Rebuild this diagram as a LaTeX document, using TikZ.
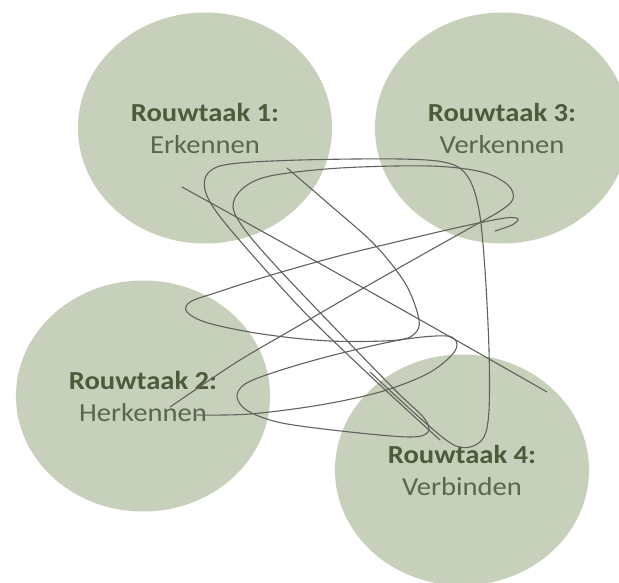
\documentclass[tikz,border=0pt]{standalone}
\usepackage{fontspec}
\setmainfont{Carlito}
\usetikzlibrary{positioning}
\definecolor{taakgroen}{RGB}{199,208,187}
\definecolor{kopgroen}{RGB}{78,91,58}
\definecolor{naamgroen}{RGB}{90,103,80}
\definecolor{krabbelgrijs}{RGB}{96,98,92}
\newcommand{\taakkop}[1]{\textbf{\color{kopgroen}#1}}
\tikzset{
	%Define style for the circles
	taak/.style={
		circle,
		fill=taakgroen,
		minimum size=231pt,
		inner sep=0pt,
		xscale=1.1,
		align=center,
		text=naamgroen,
		font=\fontsize{26}{32}\selectfont},
	% Define style for the scribble
	krabbel/.style={
		draw=krabbelgrijs,
		line width=1.1pt,
		line cap=round,
		line join=round}
}
\begin{document}
\begin{tikzpicture}[x=1pt,y=-1pt]
	\useasboundingbox (0,0) rectangle (619,582);
	\clip (0,0) rectangle (619,582);
	% node Rouwtaak 1
	\node[taak] (erkennen) at (205,128) {\taakkop{Rouwtaak 1:}\\Erkennen};
	% node Rouwtaak 3
	\node[taak] (verkennen) at (502,128) {\taakkop{Rouwtaak 3:}\\Verkennen};
	% node Rouwtaak 2
	\node[taak] (herkennen) at (143,396) {\taakkop{Rouwtaak 2:}\\Herkennen};
	% node Rouwtaak 4
	\node[taak] (verbinden) at (462,470) {\taakkop{Rouwtaak 4:}\\Verbinden};
	% scribble across the four circles
	\draw[krabbel] (182,187) .. controls (300,252) and (430,325) .. (547,392);
	\draw[krabbel] plot[smooth,tension=.55] coordinates {(440,440) (380,385) (310,318) (255,258) (218,214) (205,190) (208,173) (230,164) (300,160) (400,159) (448,163) (468,177) (479,210) (485,270) (489,350) (489,410) (484,437) (470,447) (452,444) (420,418) (370,372)};
	\draw[krabbel] plot[smooth,tension=.55] coordinates {(197,415) (250,414) (320,405) (380,392) (425,375) (449,358) (457,345) (447,336) (400,340) (330,356) (275,372) (245,384) (237,397) (248,411) (282,423) (350,432) (410,437) (428,432) (424,418) (395,390) (330,323) (275,265) (245,230) (233,207) (242,189) (270,176) (340,168) (430,166) (482,172) (508,185) (513,199) (500,211) (470,228) (420,256) (360,290) (300,325) (240,360) (195,390) (170,407)};
	\draw[krabbel] plot[smooth,tension=.55] coordinates {(287,168) (330,205) (375,245) (405,283) (418,315) (417,331) (398,340) (330,341) (262,334) (208,323) (187,312) (190,302) (215,293) (268,276) (335,257) (400,241) (460,227) (505,218) (518,219) (512,225) (495,231)};
\end{tikzpicture}
\end{document}
